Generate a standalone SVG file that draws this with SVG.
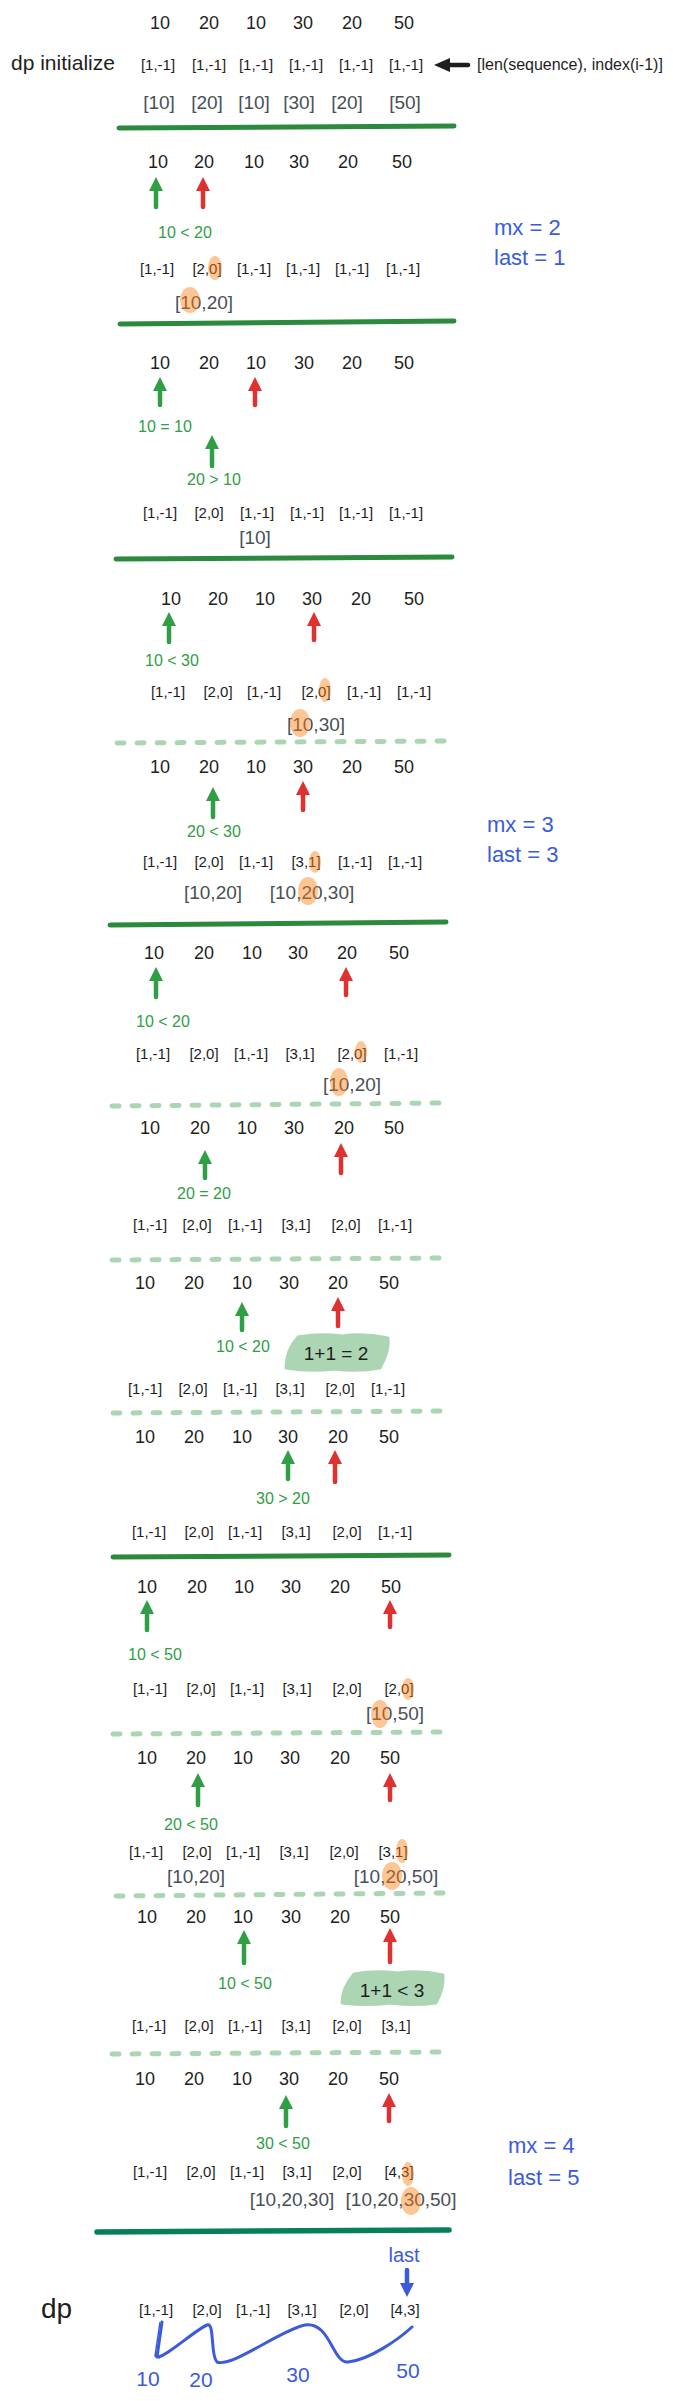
<svg xmlns="http://www.w3.org/2000/svg" width="673" height="2401" viewBox="0 0 673 2401">
<style>
text{font-family:"Liberation Sans","Noto Sans",sans-serif}
.n{font-size:18px;fill:#1e1e1e;text-anchor:middle}
.d{font-size:15px;fill:#1e1e1e;text-anchor:middle}
.g{font-size:19px;fill:#495057;text-anchor:middle}
.c{font-size:16px;fill:#2f9e44}
.b{font-size:22px;fill:#3b5bdb}
.sl{stroke:#2b8a3e;stroke-width:5;stroke-linecap:round;fill:none}
.dl{stroke:#acd5b4;stroke-width:5;stroke-linecap:round;stroke-dasharray:7 13;fill:none}
.hl{fill:#fd7e14;opacity:0.45}
.blob{fill:#acd5b4;stroke:#acd5b4;stroke-width:3;stroke-linejoin:round}
.ga{stroke:#2f9e44;stroke-width:4.5;stroke-linecap:round;marker-end:url(#hg)}
.ra{stroke:#e03131;stroke-width:4.5;stroke-linecap:round;marker-end:url(#hr)}
</style>
<defs>
<marker id="hg" markerUnits="userSpaceOnUse" markerWidth="14" markerHeight="14" viewBox="0 0 14 14" refX="5" refY="7" orient="auto"><path d="M0,0 L14,7 L0,14 z" fill="#2f9e44"/></marker>
<marker id="hr" markerUnits="userSpaceOnUse" markerWidth="14" markerHeight="14" viewBox="0 0 14 14" refX="5" refY="7" orient="auto"><path d="M0,0 L14,7 L0,14 z" fill="#e03131"/></marker>
<marker id="hk" markerUnits="userSpaceOnUse" markerWidth="16" markerHeight="16" viewBox="0 0 16 16" refX="5" refY="8" orient="auto"><path d="M0,1 L16,8 L0,15 z" fill="#1e1e1e"/></marker>
<marker id="hb" markerUnits="userSpaceOnUse" markerWidth="14" markerHeight="14" viewBox="0 0 14 14" refX="5" refY="7" orient="auto"><path d="M0,0 L14,7 L0,14 z" fill="#3b5bdb"/></marker>
</defs>
<rect width="673" height="2401" fill="#ffffff"/>

<g id="s0">
<text class="n" x="160" y="29">10</text><text class="n" x="209" y="29">20</text><text class="n" x="256" y="29">10</text><text class="n" x="303" y="29">30</text><text class="n" x="352" y="29">20</text><text class="n" x="404" y="29">50</text>
<text x="11" y="70" style="font-size:21px;fill:#1e1e1e">dp initialize</text>
<text class="d" x="158" y="70">[1,-1]</text><text class="d" x="209" y="70">[1,-1]</text><text class="d" x="256" y="70">[1,-1]</text><text class="d" x="306" y="70">[1,-1]</text><text class="d" x="356" y="70">[1,-1]</text><text class="d" x="406" y="70">[1,-1]</text>
<text x="477" y="70" style="font-size:16px;fill:#1e1e1e">[len(sequence), index(i-1)]</text>
<text class="g" x="159" y="109">[10]</text><text class="g" x="207" y="109">[20]</text><text class="g" x="254" y="109">[10]</text><text class="g" x="299" y="109">[30]</text><text class="g" x="347" y="109">[20]</text><text class="g" x="405" y="109">[50]</text>
<path class="sl" d="M119,128 L454,126"/>
</g>

<g id="s1">
<text class="n" x="158" y="168">10</text><text class="n" x="204" y="168">20</text><text class="n" x="254" y="168">10</text><text class="n" x="299" y="168">30</text><text class="n" x="348" y="168">20</text><text class="n" x="402" y="168">50</text>
<text class="c" x="158" y="238">10 &lt; 20</text>
<text class="b" x="494" y="235">mx = 2</text><text class="b" x="494" y="265">last = 1</text>
<text class="d" x="157" y="274">[1,-1]</text><text class="d" x="207" y="274">[2,0]</text><text class="d" x="254" y="274">[1,-1]</text><text class="d" x="303" y="274">[1,-1]</text><text class="d" x="352" y="274">[1,-1]</text><text class="d" x="403" y="274">[1,-1]</text>
<ellipse class="hl" cx="215" cy="268" rx="7" ry="12"/>
<text class="g" x="204" y="309">[10,20]</text>
<ellipse class="hl" cx="190" cy="300" rx="10" ry="13"/>
<path class="sl" d="M120,324 L454,321"/>
</g>

<g id="s2">
<text class="n" x="160" y="369">10</text><text class="n" x="209" y="369">20</text><text class="n" x="256" y="369">10</text><text class="n" x="304" y="369">30</text><text class="n" x="352" y="369">20</text><text class="n" x="404" y="369">50</text>
<text class="c" x="138" y="432">10 = 10</text>
<text class="c" x="187" y="485">20 &gt; 10</text>
<text class="d" x="160" y="518">[1,-1]</text><text class="d" x="209" y="518">[2,0]</text><text class="d" x="257" y="518">[1,-1]</text><text class="d" x="307" y="518">[1,-1]</text><text class="d" x="356" y="518">[1,-1]</text><text class="d" x="406" y="518">[1,-1]</text>
<text class="g" x="255" y="544">[10]</text>
<path class="sl" d="M116,559 L452,557"/>
</g>

<g id="s3">
<text class="n" x="171" y="605">10</text><text class="n" x="218" y="605">20</text><text class="n" x="265" y="605">10</text><text class="n" x="312" y="605">30</text><text class="n" x="361" y="605">20</text><text class="n" x="414" y="605">50</text>
<text class="c" x="145" y="666">10 &lt; 30</text>
<text class="d" x="168" y="697">[1,-1]</text><text class="d" x="218" y="697">[2,0]</text><text class="d" x="264" y="697">[1,-1]</text><text class="d" x="316" y="697">[2,0]</text><text class="d" x="364" y="697">[1,-1]</text><text class="d" x="414" y="697">[1,-1]</text>
<ellipse class="hl" cx="325" cy="690" rx="6" ry="12"/>
<text class="g" x="316" y="731">[10,30]</text>
<ellipse class="hl" cx="300" cy="723" rx="10" ry="14"/>
<path class="dl" d="M117,743 L447,741"/>
</g>

<g id="s4">
<text class="n" x="160" y="773">10</text><text class="n" x="209" y="773">20</text><text class="n" x="256" y="773">10</text><text class="n" x="303" y="773">30</text><text class="n" x="352" y="773">20</text><text class="n" x="404" y="773">50</text>
<text class="c" x="187" y="837">20 &lt; 30</text>
<text class="b" x="487" y="832">mx = 3</text><text class="b" x="487" y="862">last = 3</text>
<text class="d" x="160" y="867">[1,-1]</text><text class="d" x="209" y="867">[2,0]</text><text class="d" x="256" y="867">[1,-1]</text><text class="d" x="306" y="867">[3,1]</text><text class="d" x="355" y="867">[1,-1]</text><text class="d" x="405" y="867">[1,-1]</text>
<ellipse class="hl" cx="315" cy="862" rx="6" ry="11"/>
<text class="g" x="213" y="899">[10,20]</text><text class="g" x="312" y="899">[10,20,30]</text>
<ellipse class="hl" cx="308" cy="891" rx="10" ry="14"/>
<path class="sl" d="M110,925 L446,922"/>
</g>

<g id="s5">
<text class="n" x="154" y="959">10</text><text class="n" x="204" y="959">20</text><text class="n" x="252" y="959">10</text><text class="n" x="298" y="959">30</text><text class="n" x="347" y="959">20</text><text class="n" x="399" y="959">50</text>
<text class="c" x="136" y="1027">10 &lt; 20</text>
<text class="d" x="153" y="1059">[1,-1]</text><text class="d" x="204" y="1059">[2,0]</text><text class="d" x="251" y="1059">[1,-1]</text><text class="d" x="300" y="1059">[3,1]</text><text class="d" x="352" y="1059">[2,0]</text><text class="d" x="401" y="1059">[1,-1]</text>
<ellipse class="hl" cx="361" cy="1052" rx="6" ry="11"/>
<text class="g" x="352" y="1091">[10,20]</text>
<ellipse class="hl" cx="339" cy="1082" rx="9" ry="14"/>
<path class="dl" d="M112,1106 L442,1103"/>
</g>

<g id="s6">
<text class="n" x="150" y="1134">10</text><text class="n" x="200" y="1134">20</text><text class="n" x="247" y="1134">10</text><text class="n" x="294" y="1134">30</text><text class="n" x="344" y="1134">20</text><text class="n" x="394" y="1134">50</text>
<text class="c" x="177" y="1199">20 = 20</text>
<text class="d" x="150" y="1230">[1,-1]</text><text class="d" x="197" y="1230">[2,0]</text><text class="d" x="245" y="1230">[1,-1]</text><text class="d" x="296" y="1230">[3,1]</text><text class="d" x="346" y="1230">[2,0]</text><text class="d" x="395" y="1230">[1,-1]</text>
<path class="dl" d="M112,1260 L441,1258"/>
</g>

<g id="s7">
<text class="n" x="145" y="1289">10</text><text class="n" x="194" y="1289">20</text><text class="n" x="242" y="1289">10</text><text class="n" x="289" y="1289">30</text><text class="n" x="338" y="1289">20</text><text class="n" x="389" y="1289">50</text>
<text class="c" x="216" y="1352">10 &lt; 20</text>
<path class="blob" d="M298,1337 Q320,1333 342,1336 Q364,1333 388,1338 Q390,1350 380,1368 Q358,1372 334,1369 Q310,1372 286,1368 Q286,1350 298,1337 Z"/>
<text x="336" y="1360" style="font-size:19px;fill:#1e1e1e;text-anchor:middle">1+1 = 2</text>
<text class="d" x="145" y="1394">[1,-1]</text><text class="d" x="193" y="1394">[2,0]</text><text class="d" x="240" y="1394">[1,-1]</text><text class="d" x="290" y="1394">[3,1]</text><text class="d" x="340" y="1394">[2,0]</text><text class="d" x="388" y="1394">[1,-1]</text>
<path class="dl" d="M113,1413 L444,1411"/>
</g>

<g id="s8">
<text class="n" x="145" y="1443">10</text><text class="n" x="194" y="1443">20</text><text class="n" x="242" y="1443">10</text><text class="n" x="288" y="1443">30</text><text class="n" x="338" y="1443">20</text><text class="n" x="389" y="1443">50</text>
<text class="c" x="256" y="1504">30 &gt; 20</text>
<text class="d" x="149" y="1537">[1,-1]</text><text class="d" x="199" y="1537">[2,0]</text><text class="d" x="245" y="1537">[1,-1]</text><text class="d" x="296" y="1537">[3,1]</text><text class="d" x="347" y="1537">[2,0]</text><text class="d" x="395" y="1537">[1,-1]</text>
<path class="sl" d="M113,1557 L449,1555"/>
</g>

<g id="s9">
<text class="n" x="147" y="1593">10</text><text class="n" x="197" y="1593">20</text><text class="n" x="244" y="1593">10</text><text class="n" x="291" y="1593">30</text><text class="n" x="340" y="1593">20</text><text class="n" x="391" y="1593">50</text>
<text class="c" x="128" y="1660">10 &lt; 50</text>
<text class="d" x="150" y="1694">[1,-1]</text><text class="d" x="201" y="1694">[2,0]</text><text class="d" x="247" y="1694">[1,-1]</text><text class="d" x="297" y="1694">[3,1]</text><text class="d" x="347" y="1694">[2,0]</text><text class="d" x="399" y="1694">[2,0]</text>
<ellipse class="hl" cx="408" cy="1689" rx="6" ry="11"/>
<text class="g" x="395" y="1720">[10,50]</text>
<ellipse class="hl" cx="380" cy="1714" rx="9" ry="14"/>
<path class="dl" d="M113,1734 L443,1732"/>
</g>

<g id="s10">
<text class="n" x="147" y="1764">10</text><text class="n" x="196" y="1764">20</text><text class="n" x="243" y="1764">10</text><text class="n" x="290" y="1764">30</text><text class="n" x="340" y="1764">20</text><text class="n" x="390" y="1764">50</text>
<text class="c" x="164" y="1830">20 &lt; 50</text>
<text class="d" x="146" y="1857">[1,-1]</text><text class="d" x="197" y="1857">[2,0]</text><text class="d" x="243" y="1857">[1,-1]</text><text class="d" x="294" y="1857">[3,1]</text><text class="d" x="344" y="1857">[2,0]</text><text class="d" x="393" y="1857">[3,1]</text>
<ellipse class="hl" cx="402" cy="1851" rx="6" ry="12"/>
<text class="g" x="196" y="1883">[10,20]</text><text class="g" x="396" y="1883">[10,20,50]</text>
<ellipse class="hl" cx="392" cy="1876" rx="10" ry="14"/>
<path class="dl" d="M116,1896 L446,1893"/>
</g>

<g id="s11">
<text class="n" x="147" y="1923">10</text><text class="n" x="196" y="1923">20</text><text class="n" x="243" y="1923">10</text><text class="n" x="291" y="1923">30</text><text class="n" x="340" y="1923">20</text><text class="n" x="390" y="1923">50</text>
<text class="c" x="218" y="1989">10 &lt; 50</text>
<path class="blob" d="M354,1974 Q376,1970 398,1973 Q420,1970 443,1975 Q444,1988 436,2003 Q414,2006 390,2003 Q366,2006 342,2003 Q342,1988 354,1974 Z"/>
<text x="392" y="1997" style="font-size:19px;fill:#1e1e1e;text-anchor:middle">1+1 &lt; 3</text>
<text class="d" x="149" y="2031">[1,-1]</text><text class="d" x="199" y="2031">[2,0]</text><text class="d" x="245" y="2031">[1,-1]</text><text class="d" x="296" y="2031">[3,1]</text><text class="d" x="347" y="2031">[2,0]</text><text class="d" x="396" y="2031">[3,1]</text>
<path class="dl" d="M112,2054 L441,2052"/>
</g>

<g id="s12">
<text class="n" x="145" y="2085">10</text><text class="n" x="194" y="2085">20</text><text class="n" x="242" y="2085">10</text><text class="n" x="289" y="2085">30</text><text class="n" x="338" y="2085">20</text><text class="n" x="389" y="2085">50</text>
<text class="c" x="256" y="2149">30 &lt; 50</text>
<text class="b" x="508" y="2153">mx = 4</text><text class="b" x="508" y="2185">last = 5</text>
<text class="d" x="150" y="2177">[1,-1]</text><text class="d" x="201" y="2177">[2,0]</text><text class="d" x="247" y="2177">[1,-1]</text><text class="d" x="297" y="2177">[3,1]</text><text class="d" x="347" y="2177">[2,0]</text><text class="d" x="399" y="2177">[4,3]</text>
<ellipse class="hl" cx="408" cy="2174" rx="6" ry="12"/>
<text class="g" x="292" y="2206">[10,20,30]</text><text class="g" x="401" y="2206">[10,20,30,50]</text>
<ellipse class="hl" cx="411" cy="2201" rx="10" ry="14"/>
<path d="M97,2232 L449,2230" style="stroke:#087f5b;stroke-width:5.5;stroke-linecap:round;fill:none"/>
</g>

<g id="result">
<text x="404" y="2262" style="font-size:20px;fill:#3b5bdb;text-anchor:middle">last</text>
<text x="41" y="2318" style="font-size:28px;fill:#1e1e1e">dp</text>
<text class="d" x="156" y="2315">[1,-1]</text><text class="d" x="207" y="2315">[2,0]</text><text class="d" x="253" y="2315">[1,-1]</text><text class="d" x="302" y="2315">[3,1]</text><text class="d" x="354" y="2315">[2,0]</text><text class="d" x="405" y="2315">[4,3]</text>
<text x="148" y="2386" style="font-size:21px;fill:#3b5bdb;text-anchor:middle">10</text>
<text x="201" y="2387" style="font-size:21px;fill:#3b5bdb;text-anchor:middle">20</text>
<text x="298" y="2382" style="font-size:21px;fill:#3b5bdb;text-anchor:middle">30</text>
<text x="408" y="2378" style="font-size:21px;fill:#3b5bdb;text-anchor:middle">50</text>
</g>

<g id="connectors">
<line x1="468" y1="65" x2="445" y2="65" style="stroke:#1e1e1e;stroke-width:4.5;stroke-linecap:round;marker-end:url(#hk)"/>
<line class="ga" x1="156" y1="207" x2="156" y2="186"/><line class="ra" x1="203" y1="207" x2="203" y2="186"/>
<line class="ga" x1="160" y1="405" x2="160" y2="386"/><line class="ra" x1="255" y1="405" x2="255" y2="386"/>
<line class="ga" x1="212" y1="466" x2="212" y2="444"/>
<line class="ga" x1="169" y1="642" x2="169" y2="621"/><line class="ra" x1="314" y1="640" x2="314" y2="621"/>
<line class="ga" x1="213" y1="817" x2="213" y2="796"/><line class="ra" x1="303" y1="810" x2="303" y2="790"/>
<line class="ga" x1="156" y1="997" x2="156" y2="976"/><line class="ra" x1="346" y1="995" x2="346" y2="976"/>
<line class="ga" x1="205" y1="1178" x2="205" y2="1159"/><line class="ra" x1="341" y1="1173" x2="341" y2="1152"/>
<line class="ga" x1="242" y1="1330" x2="242" y2="1311"/><line class="ra" x1="338" y1="1326" x2="338" y2="1306"/>
<line class="ga" x1="288" y1="1479" x2="288" y2="1459"/><line class="ra" x1="335" y1="1482" x2="335" y2="1459"/>
<line class="ga" x1="147" y1="1630" x2="147" y2="1609"/><line class="ra" x1="390" y1="1627" x2="390" y2="1609"/>
<line class="ga" x1="198" y1="1805" x2="198" y2="1782"/><line class="ra" x1="390" y1="1800" x2="390" y2="1782"/>
<line class="ga" x1="244" y1="1963" x2="244" y2="1939"/><line class="ra" x1="390" y1="1962" x2="390" y2="1937"/>
<line class="ga" x1="286" y1="2126" x2="286" y2="2104"/><line class="ra" x1="389" y1="2121" x2="389" y2="2102"/>
<line x1="407" y1="2270" x2="407" y2="2288" style="stroke:#3b5bdb;stroke-width:4.5;stroke-linecap:round;marker-end:url(#hb)"/>
<path d="M162,2322 L157,2357 C165,2358 195,2330 207,2325 C215,2322 210,2355 217,2362 C232,2368 280,2330 305,2325 C330,2321 333,2364 348,2362 C370,2360 400,2338 412,2327" style="stroke:#3b5bdb;stroke-width:3;fill:none;stroke-linecap:round;stroke-linejoin:round"/>
<path d="M160,2322 L155,2356 L160,2358" style="stroke:#3b5bdb;stroke-width:1.5;fill:none"/>
</g>
</svg>
